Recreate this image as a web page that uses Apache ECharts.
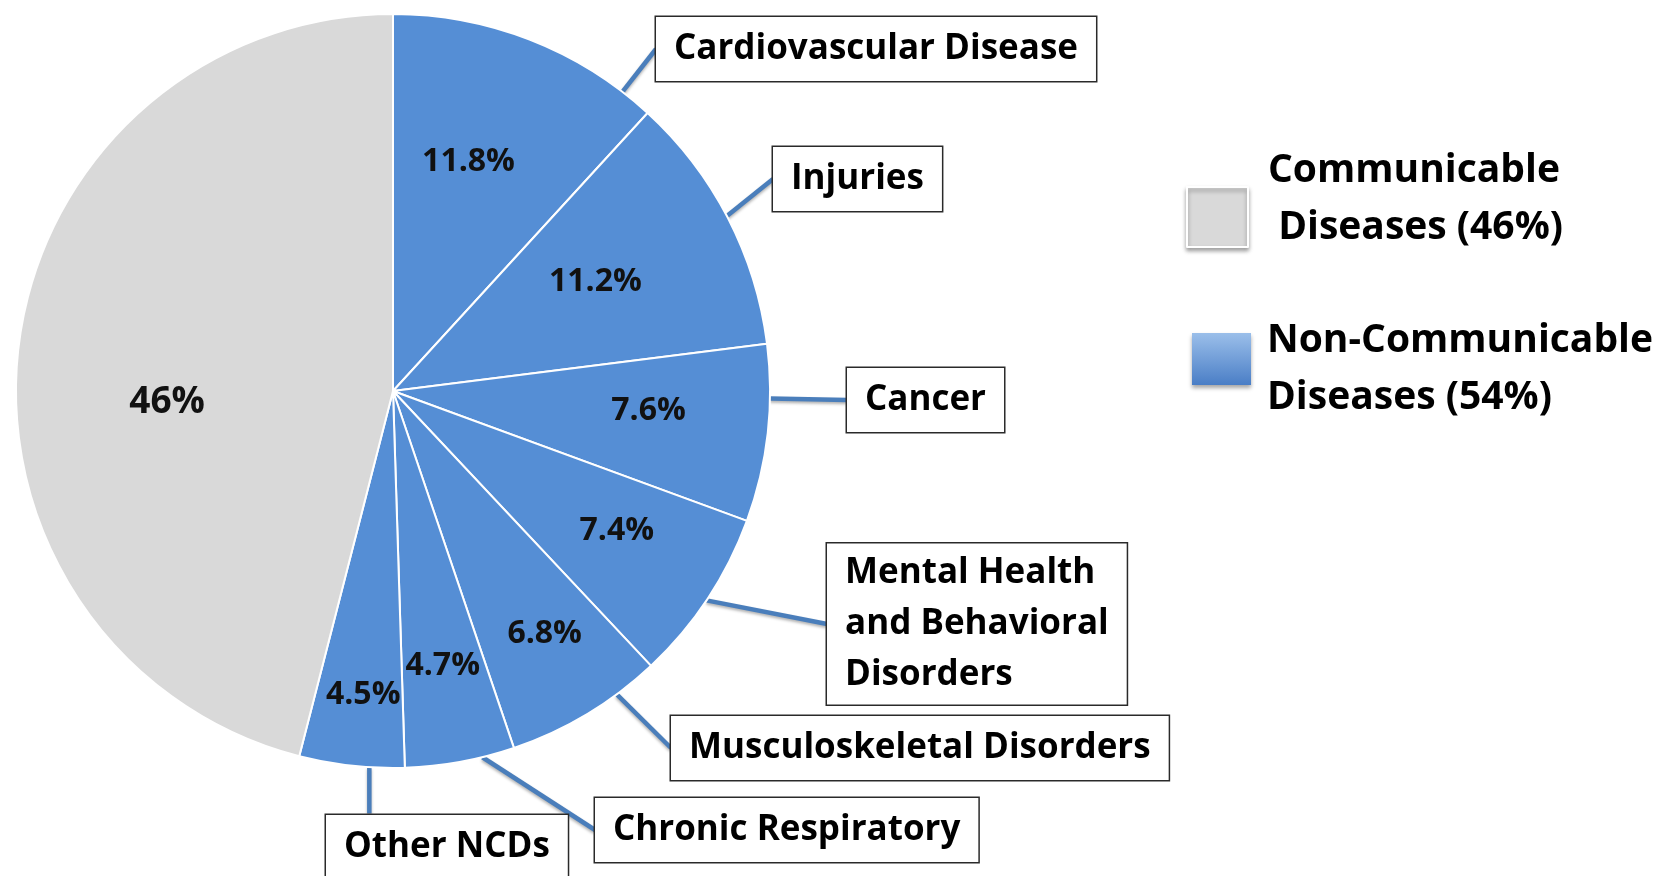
<!DOCTYPE html>
<html>
<head>
<meta charset="utf-8">
<script src="https://cdn.jsdelivr.net/npm/echarts@6.0.0/dist/echarts.min.js"></script>
<style>
  html, body { margin: 0; padding: 0; background: #fff; }
  #main { width: 1679px; height: 876px; }
</style>
</head>
<body>
<div id="main"></div>
<script>
// non-communicable slices, clockwise from 12 o'clock
var ncdNames = ['Cardiovascular Disease', 'Injuries', 'Cancer',
  'Mental Health\nand Behavioral\nDisorders', 'Musculoskeletal Disorders',
  'Chronic Respiratory', 'Other NCDs']
var ncdValues = [11.8, 11.2, 7.6, 7.4, 6.8, 4.7, 4.5]
var cdName = 'Communicable Diseases'
var cdValue = 46
// legend groups
var groupNames = ['Communicable Diseases', 'Non-Communicable Diseases']
var groupValues = [46, 54]

var BLUE = '#558ED5'
var GREY = '#D9D9D9'
var FONT = "'Open Sans', sans-serif"
var CX = 393, CY = 391, R = 377

// callout boxes: left edge, vertical middle, side the leader line enters, start angle nudge (deg)
var calloutBoxes = [[656, 49, 'left', 0], [773, 179, 'left', 1.5], [847, 400, 'left', 0], [827, 624, 'left', 5.5],
  [671, 748, 'left', 1.5], [595, 830, 'left', 0], [326, 847, 'top', -2.7]]
// percent labels: radius share, angle nudge (deg)
var pctPlace = [[0.64, -3], [0.61, -1], [0.68, -2], [0.70, -1.5], [0.76, -1], [0.74, 0], [0.81, -0.7], [0.60, -10]]

var chart = echarts.init(document.getElementById('main'))

var allValues = ncdValues.concat([cdValue])
var total = allValues.reduce(function (a, b) { return a + b }, 0)
var startDeg = [], endDeg = []
var acc = 0
allValues.forEach(function (v) {
  startDeg.push(acc / total * 360)
  acc += v
  endDeg.push(acc / total * 360)
})

// angle measured clockwise from 12 o'clock
function arcPoint(deg, r) {
  var a = deg * Math.PI / 180
  return [CX + r * Math.sin(a), CY - r * Math.cos(a)]
}
function angleOf(p) {
  var d = Math.atan2(p[0] - CX, -(p[1] - CY)) * 180 / Math.PI
  return d < 0 ? d + 360 : d
}

function sliceData() {
  var arr = ncdNames.map(function (n, i) {
    return { name: n, value: ncdValues[i], itemStyle: { color: BLUE } }
  })
  arr.push({ name: cdName, value: cdValue, itemStyle: { color: GREY } })
  return arr
}

var mainData = sliceData().map(function (d, i) {
  if (i === ncdNames.length) {
    d.label = { show: false }
    d.labelLine = { show: false }
  }
  if (i === 3) {
    d.label = { lineHeight: 51, padding: [8, 18, 0, 18] }
  }
  return d
})

var pctData = sliceData().map(function (d, i) {
  d.itemStyle = { color: 'rgba(0,0,0,0)' }
  if (i === ncdNames.length) d.label = { fontSize: 37 }
  return d
})

var legendText = { fontFamily: FONT, fontWeight: 'bold', fontSize: 39, color: '#000', lineHeight: 57 }

var option = {
  backgroundColor: '#fff',
  animation: false,
  legend: [{
    orient: 'vertical',
    left: 1186,
    top: 151,
    padding: 0,
    icon: 'rect',
    itemWidth: 61,
    itemHeight: 60,
    selectedMode: false,
    data: [{
      name: groupNames[0],
      itemStyle: { color: GREY, shadowBlur: 4, shadowColor: 'rgba(0,0,0,0.35)', shadowOffsetY: 3 }
    }],
    formatter: function () {
      return '{t|Communicable}\n{t| Diseases (' + groupValues[0] + '%)}\n{s| }'
    },
    textStyle: {
      padding: [0, 0, 0, 15],
      rich: { t: legendText, s: { fontSize: 10, lineHeight: 36 } }
    }
  }, {
    orient: 'vertical',
    left: 1192,
    top: 297,
    padding: 0,
    icon: 'rect',
    itemWidth: 59,
    itemHeight: 52,
    selectedMode: false,
    data: [{
      name: groupNames[1],
      itemStyle: {
        color: new echarts.graphic.LinearGradient(0, 0, 0, 1, [
          { offset: 0, color: '#9BBFEA' },
          { offset: 1, color: '#4A7EC6' }
        ]),
        shadowBlur: 4, shadowColor: 'rgba(0,0,0,0.35)', shadowOffsetY: 3
      }
    }],
    formatter: function () {
      return '{s| }\n{t|Non-Communicable}\n{t|Diseases (' + groupValues[1] + '%)}'
    },
    textStyle: {
      padding: [0, 0, 0, 11],
      rich: { t: legendText, s: { fontSize: 10, lineHeight: 20 } }
    }
  }],
  series: [{
    // the visible pie with callout boxes
    type: 'pie',
    center: [CX, CY],
    radius: R,
    startAngle: 90,
    clockwise: true,
    avoidLabelOverlap: false,
    emphasis: { scale: false },
    itemStyle: { borderColor: '#fff', borderWidth: 2 },
    label: {
      show: true,
      position: 'outside',
      formatter: '{b}',
      fontFamily: FONT,
      fontWeight: 'bold',
      fontSize: 35,
      lineHeight: 40,
      color: '#000',
      backgroundColor: '#fff',
      borderColor: '#2a2a2a',
      borderWidth: 1.5,
      padding: [12, 18]
    },
    labelLine: {
      show: true,
      length: 10,
      length2: 0,
      lineStyle: { color: '#4A7EBB', width: 4.5, shadowBlur: 3, shadowColor: 'rgba(0,0,0,0.3)', shadowOffsetY: 2 }
    },
    labelLayout: function (params) {
      var i = params.dataIndex
      var box = calloutBoxes[i]
      if (!box) return {}
      var h = params.labelRect.height
      var a0 = startDeg[i], a1 = endDeg[i]
      var start, end
      if (box[2] === 'top') {
        start = arcPoint((a0 + a1) / 2 + box[3], R)
        end = [start[0], box[1] - h / 2]
      } else {
        end = [box[0], box[1]]
        var m = Math.min(5, (a1 - a0) / 2)
        var ang = Math.max(a0 + m, Math.min(a1 - m, angleOf(end) + box[3]))
        start = arcPoint(ang, R)
      }
      return {
        x: box[0], y: box[1], align: 'left', verticalAlign: 'middle',
        labelLinePoints: [start, end]
      }
    },
    data: mainData
  }, {
    // percentage labels inside the slices
    type: 'pie',
    center: [CX, CY],
    radius: R,
    startAngle: 90,
    clockwise: true,
    silent: true,
    label: {
      show: true,
      position: 'inside',
      formatter: '{c}%',
      fontFamily: FONT,
      fontWeight: 'bold',
      fontSize: 32,
      color: '#111'
    },
    labelLine: { show: false },
    labelLayout: function (params) {
      var i = params.dataIndex
      var pl = pctPlace[i]
      var p = arcPoint((startDeg[i] + endDeg[i]) / 2 + pl[1], R * pl[0])
      return { x: p[0], y: p[1], align: 'center', verticalAlign: 'middle' }
    },
    data: pctData
  }, {
    // group totals, only feeds the legend
    type: 'pie',
    center: [CX, CY],
    radius: 0,
    silent: true,
    label: { show: false },
    labelLine: { show: false },
    data: groupNames.map(function (n, i) {
      return { name: n, value: groupValues[i], itemStyle: { color: i === 0 ? GREY : BLUE } }
    })
  }]
}

chart.setOption(option)
</script>
</body>
</html>
